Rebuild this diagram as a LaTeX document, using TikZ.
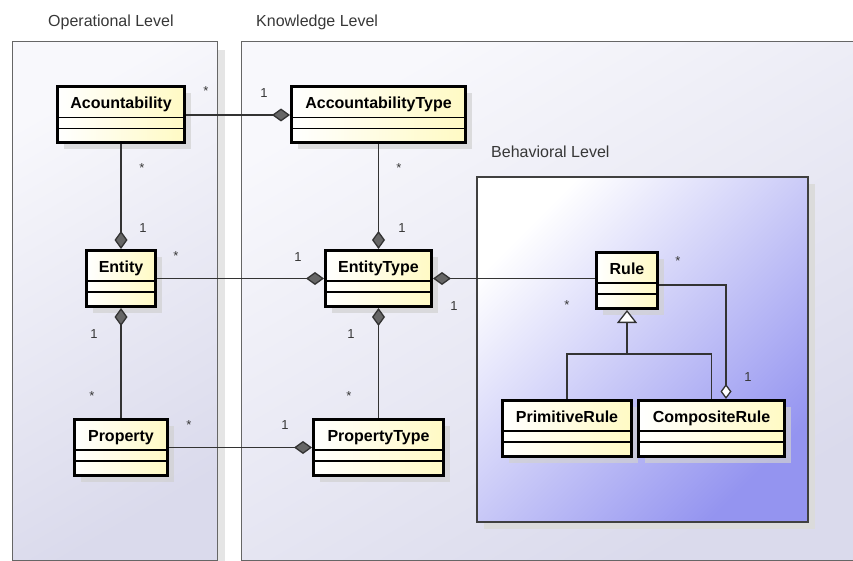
\documentclass[tikz,border=0pt]{standalone}
\usepackage{fontspec}
\setmainfont{Liberation Sans}
\usetikzlibrary{arrows.meta,shadows}

\definecolor{levelfilltop}{RGB}{248,248,252}
\definecolor{levelfillbot}{RGB}{218,218,236}
\definecolor{behavblue}{RGB}{148,148,240}
\definecolor{classyellow}{RGB}{255,250,196}
\definecolor{textgray}{RGB}{55,55,55}

\tikzset{
  umlclass/.style={draw,line width=3pt,minimum width=#1,inner xsep=0pt,inner ysep=8pt,
    text height=13.5pt,text depth=26.5pt,left color=white,right color=classyellow,
    font=\fontsize{16}{19}\selectfont\bfseries,
    drop shadow={shadow xshift=6pt,shadow yshift=-6pt,fill=black!18,opacity=.7}},
  mult/.style={inner sep=0pt,text height=9pt,text depth=0pt,
    font=\fontsize{13}{15}\selectfont,text=textgray},
  level/.style={anchor=base west,inner sep=0pt,font=\fontsize{16}{19}\selectfont,text=textgray},
  assoc/.style={line width=1.3pt,draw=black!80},
  composition/.style={-{Diamond[length=18pt,width=13pt,fill=black!60]}},
  aggregation/.style={-{Diamond[length=15pt,width=11pt,fill=white]}},
  generalization/.style={-{Triangle[length=13pt,width=20pt,fill=white]}}
}

\begin{document}
\begin{tikzpicture}[x=1pt,y=-1pt]
  \useasboundingbox (0,0) rectangle (853,561);

  % level frames
  \fill[black!10] (218,50) rectangle (225,561);
  \path[draw=black!60,line width=1pt,top color=levelfilltop,bottom color=levelfillbot,shading angle=30]
    (12,42) rectangle (217,560);
  \path[draw=black!60,line width=1pt,top color=levelfilltop,bottom color=levelfillbot,shading angle=30]
    (241,42) rectangle (860,560);
  \fill[black!14] (484,184) rectangle (815,529);
  \path[draw=black!75,line width=1.3pt,top color=white,bottom color=behavblue,shading angle=45]
    (477,177) rectangle (808,522);

  \node[level] (oplevel) at (48,26.5)  {Operational Level};
  \node[level] (knlevel) at (256,26.5) {Knowledge Level};
  \node[level] (bhlevel) at (491,158)  {Behavioral Level};

  % classes
  \node[umlclass=127pt] (acc)   at (121,115)     {Acountability};
  \node[umlclass=174pt] (acct)  at (378.5,115)   {AccountabilityType};
  \node[umlclass=69pt]  (ent)   at (121,278.5)   {Entity};
  \node[umlclass=106pt] (etype) at (378.5,278.5) {EntityType};
  \node[umlclass=93pt]  (prop)  at (121,447.5)   {Property};
  \node[umlclass=130pt] (ptype) at (378.5,447.5) {PropertyType};
  \node[umlclass=61pt]  (rule)  at (627,280.5)   {Rule};
  \node[umlclass=129pt] (prule) at (567,428.5)   {PrimitiveRule};
  \node[umlclass=146pt] (crule) at (711.5,428.5) {CompositeRule};

  \foreach \n in {acc,acct,ent,etype,prop,ptype,rule,prule,crule} {
    \draw[line width=1.5pt] ([yshift=-32pt]\n.north west) -- ([yshift=-32pt]\n.north east);
    \draw[line width=1.5pt] ([yshift=-43pt]\n.north west) -- ([yshift=-43pt]\n.north east);
  }

  % associations
  \foreach \from/\to in {acc/acct,acc/ent,acct/etype,ent/etype,prop/ent,ptype/etype,prop/ptype}
    \draw[assoc,composition] (\from) -- (\to);
  \draw[assoc,{Diamond[length=18pt,width=13pt,fill=black!60]}-] (etype.east) -- (etype.east -| rule.west);
  \draw[assoc,aggregation] ([yshift=-4.5pt]rule.east) -| ([xshift=14.5pt]crule.north);

  \coordinate (split) at (627,354);
  \draw[assoc,generalization] (prule.north) |- (split) -- (rule.south);
  \draw[assoc] (crule.north) |- (split);

  % multiplicities
  \foreach \name/\pos/\txt in {m1/{206,91.5}/*,m2/{264,93}/1,m3/{142,168}/*,m4/{143,228}/1,
      m5/{399,168}/*,m6/{402,228}/1,m7/{176,255.5}/*,m8/{298,257}/1,m9/{94,334}/1,
      m10/{92,395.5}/*,m11/{351,334}/1,m12/{349,395.5}/*,m13/{189,424.5}/*,m14/{285,425}/1,
      m15/{454,306}/1,m16/{567,304.5}/*,m17/{678,261}/*,m18/{748,377}/1}
    \node[mult] (\name) at (\pos) {\txt};
\end{tikzpicture}
\end{document}
